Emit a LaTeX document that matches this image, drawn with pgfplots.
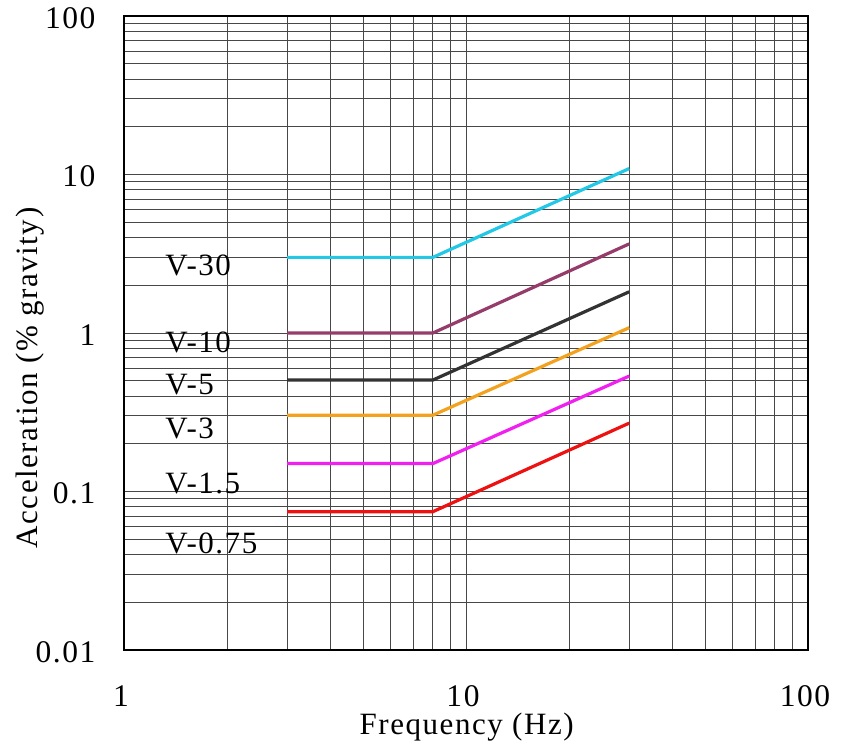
\documentclass[border=0pt]{standalone}
\usepackage{pgfplots}
\pgfplotsset{compat=1.18}
\usepackage{fontspec}
\setmainfont{Liberation Serif}[LetterSpace=5]
\definecolor{cV30}{HTML}{22C8E6}
\definecolor{cV10}{HTML}{963C6A}
\definecolor{cV5}{HTML}{333333}
\definecolor{cV3}{HTML}{F2A21E}
\definecolor{cV15}{HTML}{F020F0}
\definecolor{cV075}{HTML}{EE1111}
\begin{document}
\begin{tikzpicture}
\begin{axis}[
  scale only axis,
  width=684bp, height=634bp,
  xmode=log, ymode=log,
  xmin=1, xmax=100, ymin=0.01, ymax=100,
  xtick={1,10,100}, xticklabels={1,10,100},
  ytick={0.01,0.1,1,10,100}, yticklabels={0.01,0.1,1,10,100},
  minor xtick={2,3,4,5,6,7,8,9,20,30,40,50,60,70,80,90},
  minor ytick={0.02,0.03,0.04,0.05,0.06,0.07,0.08,0.09,0.2,0.3,0.4,0.5,0.6,0.7,0.8,0.9,2,3,4,5,6,7,8,9,20,30,40,50,60,70,80,90},
  grid=both,
  grid style={draw=black!72, line width=0.8bp},
  major grid style={draw=black!72, line width=0.8bp},
  minor grid style={draw=black!72, line width=0.8bp},
  major tick length=0pt, minor tick length=0pt,
  axis line style={line width=1.6bp, black},
  /pgf/number format/assume math mode=true,
  tick label style={font=\fontsize{31.5bp}{31.5bp}\selectfont},
  xticklabel style={yshift=-32bp, xshift=-3bp},
  yticklabel style={xshift=-25bp, yshift=-2bp},
  xlabel={Frequency (Hz)},
  ylabel={Acceleration (\% gravity)},
  label style={font=\fontsize{31bp}{31bp}\selectfont},
  xlabel style={at={(axis description cs:0.501,-0.122)}, anchor=center},
  ylabel style={at={(axis description cs:-0.138,0.429)}, anchor=center, rotate=0},
  clip=false,
]
\addplot[cV30, line width=3.2bp] coordinates {(3,3.0) (8,3.0) (30,10.9)};
\addplot[cV10, line width=3.2bp] coordinates {(3,1.0) (8,1.0) (30,3.65)};
\addplot[cV5, line width=3.2bp] coordinates {(3,0.505) (8,0.505) (30,1.82)};
\addplot[cV3, line width=3.2bp] coordinates {(3,0.303) (8,0.303) (30,1.08)};
\addplot[cV15, line width=3.2bp] coordinates {(3,0.150) (8,0.150) (30,0.535)};
\addplot[cV075, line width=3.2bp] coordinates {(3,0.0746) (8,0.0746) (30,0.27)};
\begin{scope}[every node/.style={font=\fontsize{31bp}{31bp}\selectfont, anchor=west, inner sep=0pt}]
\node at (axis cs:1.32,2.65) {V-30};
\node at (axis cs:1.32,0.877) {V-10};
\node at (axis cs:1.32,0.475) {V-5};
\node at (axis cs:1.32,0.25) {V-3};
\node at (axis cs:1.32,0.112) {V-1.5};
\node at (axis cs:1.32,0.047) {V-0.75};
\end{scope}
\end{axis}
\pgfresetboundingbox
\path[use as bounding box] (-124bp,-96bp) rectangle (723bp,650bp);
\end{tikzpicture}
\end{document}
